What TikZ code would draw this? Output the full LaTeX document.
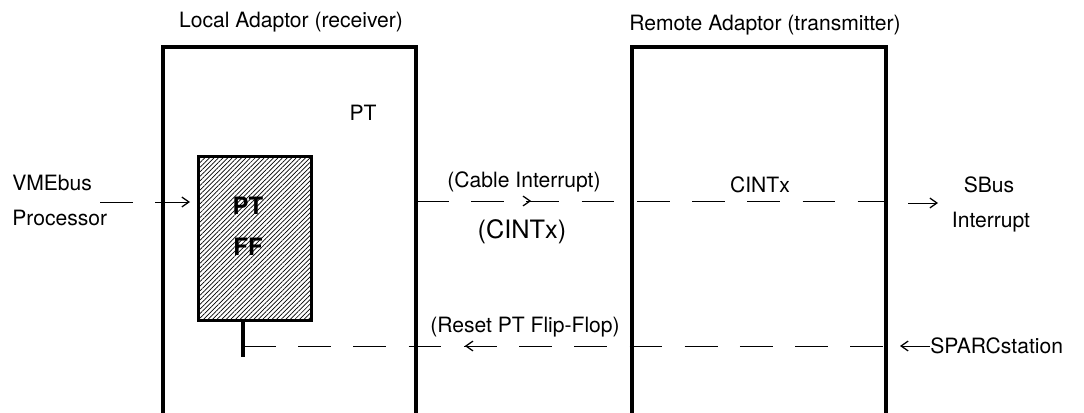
\documentclass[tikz,border=0pt]{standalone}
\usepackage{fontspec}
\setmainfont{TeX Gyre Heros}
\usetikzlibrary{positioning}
\usetikzlibrary{arrows.meta}
\usetikzlibrary{decorations.markings}
\usetikzlibrary{patterns.meta}
\tikzset{wall/.style = {line width=2.2pt}}
\tikzset{sig/.style = {line width=0.7pt, dash pattern=on 0.82cm off 0.56cm}}
\tikzset{tip/.style = {-{Straight Barb[length=5pt,width=7pt,line width=0.9pt]}}}
\tikzset{->-/.style = {decoration={markings,
                                  mark=at position #1
                                  with {\arrow[line width=0.9pt]{Straight Barb[length=5pt,width=7pt]}}},
                      postaction={decorate}}}
\tikzset{-<-/.style = {decoration={markings,
                                  mark=at position #1
                                  with {\arrowreversed[line width=0.9pt]{Straight Barb[length=5pt,width=7pt]}}},
                      postaction={decorate}}}
\tikzset{txt/.style = {inner sep=0, font=\fontsize{15}{18}\selectfont}}
\tikzset{every picture/.style={x=0.025cm, y=-0.025cm}}

\begin{document}
\begin{tikzpicture}
      \useasboundingbox (0,0) rectangle (1084,413);
      % adaptor boxes, open at the bottom
      \coordinate (la) at (163,413); \coordinate (lb) at (163,47);
      \coordinate (lc) at (416,47);  \coordinate (ld) at (416,413);
      \coordinate (ra) at (632,413); \coordinate (rb) at (632,47);
      \coordinate (rc) at (886,47);  \coordinate (rd) at (886,413);
      \draw[wall] (la) -- (lb) -- (lc) -- (ld);
      \draw[wall] (ra) -- (rb) -- (rc) -- (rd);
      \node[txt] (local) at (291,22) {Local Adaptor (receiver)};
      \node[txt] (remote) at (765,25) {Remote Adaptor (transmitter)};
      \node[txt] (pt) at (363,113) {PT};
      % flip-flop
      \node[draw, wall, anchor=north west, minimum width=2.825cm, minimum height=4.1cm,
            pattern={Lines[angle=45,distance=2.3pt,line width=0.5pt]}] (ff) at (198,156) {};
      \node[txt, font=\fontsize{17}{20}\selectfont\bfseries] (ffpt) at (248,206) {PT};
      \node[txt, font=\fontsize{17}{20}\selectfont\bfseries] (ffff) at (248,247) {FF};
      \coordinate (stemtop) at (243,320);
      \coordinate (stembot) at (243,357);
      \coordinate (reset) at (243,346);
      \draw[wall] (stemtop) -- (stembot);
      % cable interrupt
      \node[txt, anchor=west] (vme) at (12,183) {VMEbus};
      \node[txt, anchor=west] (proc) at (12,218) {Processor};
      \coordinate (vmeout) at (100,202);
      \coordinate (ffin) at (190,202);
      \draw[sig, tip] (vmeout) -- (ffin);
      \coordinate (cintl) at (416,201);
      \coordinate (cintr) at (886,201);
      \draw[sig, ->-=0.245] (cintl) -- (cintr);
      \node[txt] (cable) at (524,182) {(Cable Interrupt)};
      \node[txt, font=\fontsize{18}{21}\selectfont] (cintx) at (522,232) {(CINTx)};
      \node[txt] (cintxr) at (760,185) {CINTx};
      \coordinate (sbusa) at (908,203);
      \coordinate (sbusb) at (938,203);
      \draw[line width=0.7pt, tip] (sbusa) -- (sbusb);
      \node[txt] (sbus) at (989,185) {SBus};
      \node[txt] (intr) at (991,222) {Interrupt};
      % reset
      \coordinate (resetr) at (886,346);
      \draw[sig, -<-=0.345] (reset) -- (resetr);
      \node[txt] (resetlbl) at (525,327) {(Reset PT Flip-Flop)};
      \node[txt, anchor=west] (sparc) at (930,346) {SPARCstation};
      \coordinate (sparcin) at (900,346);
      \draw[line width=0.7pt, tip] (sparc.west) -- (sparcin);
\end{tikzpicture}
\end{document}
